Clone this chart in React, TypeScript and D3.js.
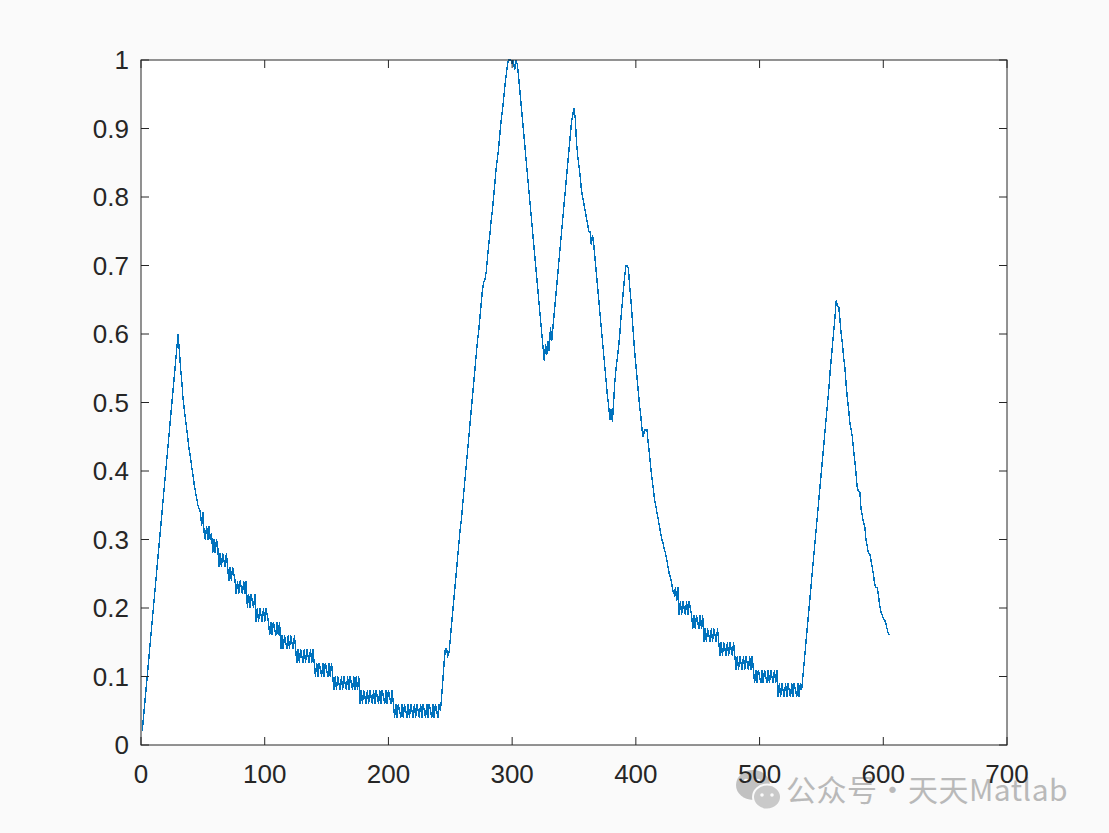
import React from "react";
import * as d3 from "d3";

// values in hundredths, consecutive samples starting at x = 1
const riseA = [2,4,6,8,10,12,14,16,18,20,22,24,26,28,30,32,34,36,38,40,42,44,46,48,50,52,54,56,58,60];
const decayB = [57.5,55,53,50.5,49,47.5,46,44.5,43,42,40.5,39.5,38,37,36,35,34.5,34,32,34];
const steps1 = [
  [31,30,32,30,32,30,31],
  [28,30,28,30,29],
  [26,28,26,28,27,26,28,26],
  [24,26,24,26,25,24],
  [22,24,22,24,23,22,24,22,24],
  [20,22,20,22,21,20,22],
  [18,20,18,20,19,18,20,18,20,19,18],
  [16,18,16,18,17,16,18,16,18],
  [14,16,14,16,15,14,16,14,16,15,14,16,14],
  [12,14,12,14,13,12,14,12,14,13,12,14,12,14,12],
  [10,12,10,12,11,10,12,10,12,11,10,12,10,12,10],
  [8,10,8,10,9,8,10,8,10,9,8,10,8,10,9,8,10,8,10,8,10],
  [6,8,6,8,7,6,8,6,8,7,6,8,6,8,7,6,8,6,8,7,6,8,6,8,7,6,8,6],
  [4,6,4,6,5,4,6,4,6,5,4,6,4,6,5,4,6,4,6,5,4,6,4,6,5,4,6,4,6,5,4,6,4,6,5,4,6,5],
];
const riseC = [7,9.5,12,14,14,13,13.5,15.5,17.5,19.5,21.5,23.5,25.5,27.5,29.5,31.5,33,35,37,39,41,43,45,47,49,51,53,55,57,59,60.5,62.5,64.5,66.5,67.5,68,69,
  71,73,74.5,76.5,78,80,82,84,85.5,87,89,91,92.5,94,96,97.5,99,100,100,100,99.5,100,98.5,100,99.5];
const middle = [98,96,94,92,90,88,86,84,82,80,78,76,74,72,70,68,66,64,62,60,58,56,
  58.5,57,59,57.5,61,59,61,
  63,65,67,69,71,73,75,77,79,81,83,85,87,89,91,92,93,91.5,
  88,86,84.5,83,81,80,79,78,77,76,75,
  75,73,74.5,73,
  71,69,67,65,63,61,59,57,55,53,51,49.5,47.5,49,47.2,50,
  53,55,56.5,58,60,62.5,64.5,66.5,68.5,70,70,69.5,
  67,65,62.5,60,57.5,55.5,53.5,51.5,49.5,48,46,45,46,46,46,44,
  42.5,40.5,39,37.5,36,35,34,33,32,31,30,29.5,28.5,28,
  27,26,25,24.5,23.5,22.5,22,23,21,23];
const steps2 = [
  [19,21,19,21,20,19,21,19,21,20,19],
  [17,19,17,19,18,17,19,17,19],
  [15,17,15,17,16,15,17,15,17,16,15,17,15],
  [13,15,13,15,14,13,15,13,15,14,13,15,13],
  [11,13,11,13,12,11,13,11,13,12,11,13,11,13,11],
  [9,11,9,11,10,9,11,9,11,10,9,11,9,11,10,9,11,9,11],
  [7,9,7,9,8,7,9,7,9,8,7,9,7,9,8,7,9,7,9,8],
];
const lastPeak = [10,12,14,16,18,20,22,24,26,28,30,32,34,36,38,40,42,44,46,48,50,52,54.5,56.5,58.5,60.5,62.5,65,64,64,
  62,60,58.5,56.5,55,52.5,50.5,49,47,46,45,43,41.5,39.5,37.5,37,37,34.5,33.5,32.5,32,30,29,28,28,27,26,25,23.5,23,23,22,20.5,19.5,19,18.5,18.3,17.8,17,16.3,16];

const xTicks = [0, 100, 200, 300, 400, 500, 600, 700];
const yTicks = [0, 0.1, 0.2, 0.3, 0.4, 0.5, 0.6, 0.7, 0.8, 0.9, 1];
const yTickLabels = ["0", "0.1", "0.2", "0.3", "0.4", "0.5", "0.6", "0.7", "0.8", "0.9", "1"];

const series: number[] = [
  ...riseA, ...decayB, ...steps1.flat(), ...riseC, ...middle, ...steps2.flat(), ...lastPeak,
].map((v) => v / 100);

export default function App() {
  const W = 1109, H = 833;
  const L = 141, R = 1007, T = 60, B = 745;
  const x = d3.scaleLinear().domain([0, 700]).range([L, R]);
  const y = d3.scaleLinear().domain([0, 1]).range([B, T]);
  const line = d3.line<number>().x((_, i) => x(i + 1)).y((d) => y(d));
  const axisColor = "#262626";
  const font = "'Liberation Sans', Arial, Helvetica, sans-serif";
  const tl = 8;
  return (
    <svg width={W} height={H} style={{ position: "absolute", left: 0, top: 0, display: "block" }}>
      <rect x={0} y={0} width={W} height={H} fill="#fafafa" />
      <rect x={L} y={T} width={R - L} height={B - T} fill="#ffffff" />
      <defs>
        <clipPath id="plotclip">
          <rect x={L} y={T - 1} width={R - L} height={B - T + 2} />
        </clipPath>
      </defs>
      <path d={line(series) || ""} fill="none" stroke="#0072BD" strokeWidth={1.4} clipPath="url(#plotclip)" shapeRendering="crispEdges" />
      {/* watermark */}
      <g opacity={0.8}>
        <ellipse cx={753} cy={785} rx={17} ry={15} fill="#b4b4b4" />
        <ellipse cx={767} cy={797} rx={14} ry={12.5} fill="#bdbdbd" stroke="#fafafa" strokeWidth={2} />
        <circle cx={746} cy={781} r={2.2} fill="#fafafa" />
        <circle cx={758} cy={781} r={2.2} fill="#fafafa" />
        <circle cx={762} cy={795} r={1.8} fill="#fafafa" />
        <circle cx={772} cy={795} r={1.8} fill="#fafafa" />
        <text x={786} y={801} fontFamily="'Noto Sans CJK SC', sans-serif" fontSize={30} fill="#aaaaaa" letterSpacing={0.5}>
          公众号·天天Matlab
        </text>
      </g>
      <rect x={L} y={T} width={R - L} height={B - T} fill="none" stroke={axisColor} strokeWidth={1} />
      {xTicks.map((t) => (
        <g key={"x" + t}>
          <line x1={x(t)} x2={x(t)} y1={B} y2={B - tl} stroke={axisColor} strokeWidth={1} />
          <line x1={x(t)} x2={x(t)} y1={T} y2={T + tl} stroke={axisColor} strokeWidth={1} />
          <text x={x(t)} y={783} textAnchor="middle" fontFamily={font} fontSize={26} fill={axisColor}>
            {t}
          </text>
        </g>
      ))}
      {yTicks.map((t, i) => (
        <g key={"y" + t}>
          <line x1={L} x2={L + tl} y1={y(t)} y2={y(t)} stroke={axisColor} strokeWidth={1} />
          <line x1={R} x2={R - tl} y1={y(t)} y2={y(t)} stroke={axisColor} strokeWidth={1} />
          <text x={129} y={y(t) + 9} textAnchor="end" fontFamily={font} fontSize={26} fill={axisColor}>
            {yTickLabels[i]}
          </text>
        </g>
      ))}
    </svg>
  );
}
